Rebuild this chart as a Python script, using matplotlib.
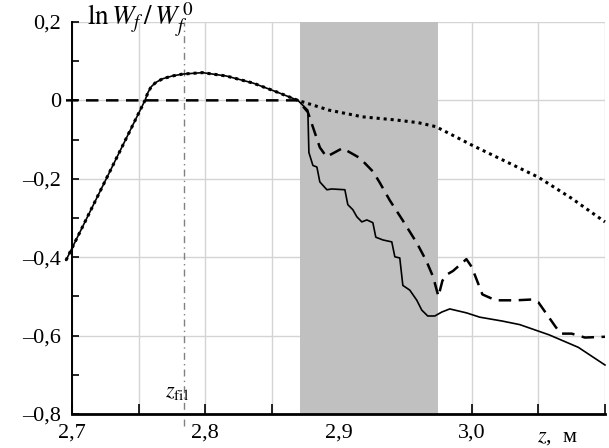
import matplotlib.pyplot as plt
from matplotlib.ticker import FixedLocator, FuncFormatter

plt.rcParams["font.family"] = ["Liberation Serif", "DejaVu Serif"]
plt.rcParams["mathtext.fontset"] = "stix"

# shared rise before the filament region (solid and dotted coincide)
z_rise = [2.6955, 2.7548, 2.757, 2.7595, 2.763, 2.768, 2.775, 2.783, 2.798, 2.816, 2.836,
          2.854, 2.8695]
v_rise = [-0.408, 0.0, 0.02, 0.035, 0.046, 0.055, 0.062, 0.067, 0.0707, 0.062, 0.044,
          0.021, 0.0]

z_solid = z_rise + [2.877, 2.8778, 2.8808, 2.8838, 2.886, 2.8913, 2.895, 2.9048, 2.907, 2.9108,
                    2.9138, 2.9175, 2.9213, 2.9258, 2.928, 2.9333, 2.94, 2.9423, 2.946, 2.9483,
                    2.9535, 2.9588, 2.9625, 2.967, 2.9723, 2.9775, 2.9835, 2.996, 3.006, 3.023,
                    3.036, 3.058, 3.08, 3.1]
v_solid = v_rise + [-0.025, -0.133, -0.166, -0.17, -0.208, -0.228, -0.226, -0.228, -0.266, -0.279,
                    -0.297, -0.31, -0.305, -0.312, -0.349, -0.356, -0.361, -0.399, -0.402, -0.472,
                    -0.484, -0.51, -0.535, -0.55, -0.55, -0.54, -0.532, -0.542, -0.553, -0.563,
                    -0.572, -0.598, -0.63, -0.675]

z_dot = z_rise + [2.893, 2.918, 2.943, 2.96, 2.973, 2.988, 3.0, 3.025, 3.05, 3.075, 3.1]
v_dot = v_rise + [-0.025, -0.042, -0.05, -0.057, -0.067, -0.093, -0.114, -0.155, -0.196, -0.25, -0.31]

z_dash = [2.6955, 2.8695, 2.877, 2.881, 2.886, 2.891, 2.903, 2.916, 2.926, 2.931, 2.9385,
          2.948, 2.959, 2.966, 2.971, 2.975, 2.978, 2.981, 2.986, 2.996, 3.0, 3.008, 3.018,
          3.033, 3.045, 3.05, 3.063, 3.067, 3.075, 3.085, 3.1]
v_dash = [0.0, 0.0, -0.03, -0.07, -0.12, -0.144, -0.122, -0.147, -0.182, -0.21, -0.255,
          -0.305, -0.365, -0.41, -0.45, -0.5, -0.46, -0.445, -0.435, -0.405, -0.425, -0.495, -0.51,
          -0.51, -0.508, -0.515, -0.578, -0.595, -0.595, -0.605, -0.603]

band = (2.871, 2.975)
z_fil = 2.784

fig = plt.figure(figsize=(6.09, 4.48), dpi=100)
ax = fig.add_axes([0.1182, 0.0759, 0.8752, 0.8751])

ax.set_xlim(2.7, 3.1)
ax.set_ylim(-0.8, 0.2)

xt = [2.7 + 0.05 * i for i in range(9)]
ax.xaxis.set_major_locator(FixedLocator(xt))
ax.xaxis.set_major_formatter(FuncFormatter(
    lambda v, p: f"{v:.1f}".replace(".", ",") if p % 2 == 0 and p < 8 else ""))
ax.yaxis.set_major_locator(FixedLocator([0.2, 0.0, -0.2, -0.4, -0.6, -0.8]))
ax.yaxis.set_minor_locator(FixedLocator([0.1, -0.1, -0.3, -0.5, -0.7]))
ax.yaxis.set_major_formatter(FuncFormatter(
    lambda v, p: "0" if abs(v) < 1e-9 else f"{v:.1f}".replace(".", ",").replace("-", "\u2013")))

ax.tick_params(axis="x", direction="in", length=7, width=1.2, labelsize=16, pad=7)
ax.tick_params(axis="y", which="both", direction="in", length=5, width=1.2, labelsize=16, pad=8)
ax.spines["top"].set_visible(False)
ax.spines["right"].set_visible(False)
ax.spines["left"].set_linewidth(1.4)
ax.spines["bottom"].set_linewidth(2.0)

ax.grid(True, color="#d4d4d4", linewidth=1.0, zorder=0)
ax.set_axisbelow(True)
ax.axvspan(*band, color="#c0c0c0", linewidth=0, zorder=1)

ax.plot([z_fil, z_fil], [-0.83, 0.2], color="#808080", linewidth=1.0,
        linestyle=(0, (5, 3, 1, 3)), clip_on=False, zorder=2)

ax.plot(z_solid, v_solid, color="black", linewidth=1.2, clip_on=False, zorder=3)
ax.plot(z_dot, v_dot, color="black", linewidth=2.2, linestyle=(0, (1, 1.3)),
        clip_on=False, zorder=4)
ax.plot(z_dash, v_dash, color="black", linewidth=1.8, linestyle=(0, (5, 3)),
        clip_on=False, zorder=4)

ax.text(z_fil - 0.005, -0.745, r"$z_{\rm fil}$", fontsize=16, ha="center", va="center")
ax.text(2.711, 0.192, r"$\ln W_f\,/\,W_f^{\,0}$", fontsize=19.5, ha="left", va="baseline")
ax.text(3.064, -0.835, r"$z$,  м", fontsize=16, ha="center", va="top")

fig.savefig("out.png", dpi=100, facecolor="white")
